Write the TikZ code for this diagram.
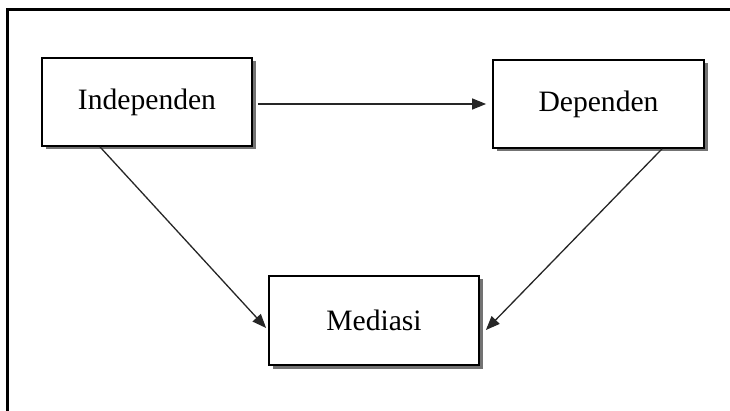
\documentclass[tikz,border=0pt]{standalone}
\usepackage{fontspec}
\setmainfont{Liberation Serif}
\usetikzlibrary{arrows.meta,shadows,calc}
\begin{document}
\begin{tikzpicture}[x=1pt,y=-1pt,
  boxnode/.style={draw=black,line width=1.8pt,fill=white,minimum width=210pt,minimum height=88pt,
    inner sep=0pt,font=\fontsize{29.6}{35}\selectfont,
    drop shadow={shadow xshift=3.5pt,shadow yshift=-3.5pt,fill=black!55,opacity=1}},
  conn/.style={draw=black!85,line width=1.3pt,-{Triangle[length=14pt,width=11pt]}}]
\useasboundingbox (0,0) rectangle (730,411);
\fill[white] (0,0) rectangle (730,411);
\draw[line width=3pt,line cap=rect] (7.5,411) -- (7.5,10) -- (730,10);
\node[boxnode] (ind) at (147,102) {Independen};
\node[boxnode,minimum width=211pt] (dep) at (598.5,104) {Dependen};
\node[boxnode,minimum height=89pt] (med) at (374,320.5) {Mediasi};
\draw[conn] ([xshift=5pt,yshift=-2pt]ind.east) -- ([xshift=-6pt]dep.west);
\draw[conn] ([xshift=-47pt]ind.south) -- ([xshift=-2pt,yshift=-7.5pt]med.west);
\draw[conn] ([xshift=63.5pt]dep.south) -- ([xshift=6pt,yshift=-9.5pt]med.east);
\end{tikzpicture}
\end{document}
